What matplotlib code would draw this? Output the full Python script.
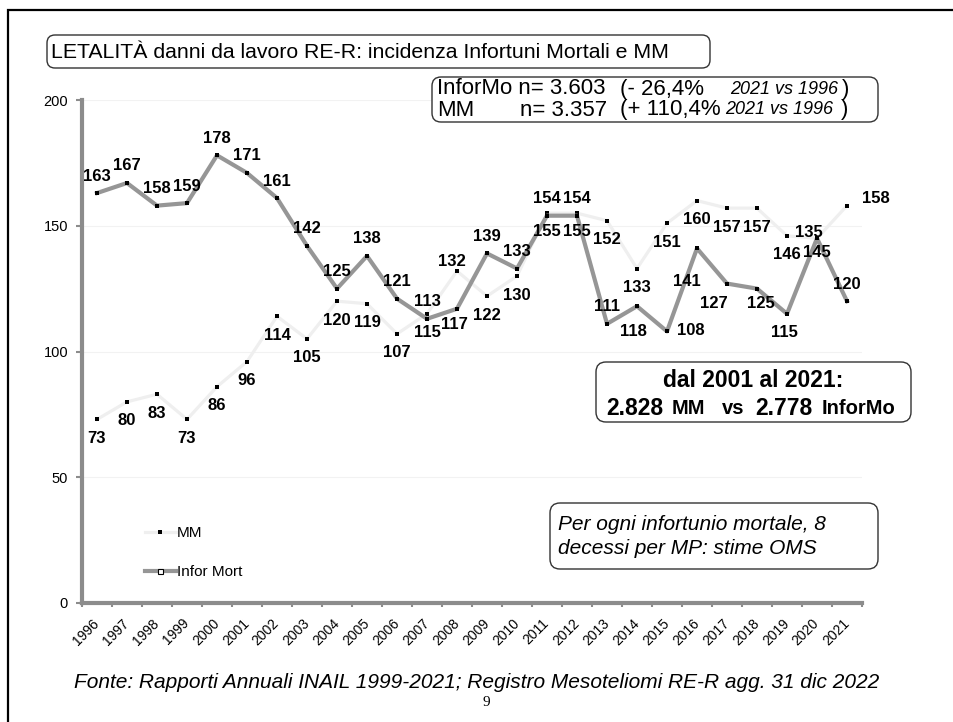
import numpy as np
import matplotlib
matplotlib.use("Agg")
import matplotlib.pyplot as plt
from matplotlib.patches import FancyBboxPatch, Rectangle
from matplotlib.lines import Line2D
from matplotlib.transforms import IdentityTransform

plt.rcParams['font.family'] = ['Liberation Sans', 'DejaVu Sans']

# ---------------- data ----------------
years = ["1996", "1997", "1998", "1999", "2000", "2001", "2002", "2003", "2004",
         "2005", "2006", "2007", "2008", "2009", "2010", "2011", "2012", "2013",
         "2014", "2015", "2016", "2017", "2018", "2019", "2020", "2021"]
mm = [73, 80, 83, 73, 86, 96, 114, 105, 120, 119, 107, 115, 132, 122, 130,
      155, 155, 152, 133, 151, 160, 157, 157, 146, 145, 158]
infor_mort = [163, 167, 158, 159, 178, 171, 161, 142, 125, 138, 121, 113, 117,
              139, 133, 154, 154, 111, 118, 108, 141, 127, 125, 115, 145, 120]
# data labels as printed in the reference
mm_labels = [str(v) for v in mm]
infor_labels = [str(v) for v in infor_mort]
infor_labels[24] = "135"
yticks = [0, 50, 100, 150, 200]

W, H = 954, 722
fig = plt.figure(figsize=(W / 100, H / 100), dpi=100)
fig.patch.set_facecolor("white")

def P(x, y):
    """pixel (top-left origin) -> display coords"""
    return x, H - y

# outer frame
fig.add_artist(Rectangle(P(8, 760), 1000, 750, transform=IdentityTransform(),
                         fill=False, ec="black", lw=1.6, zorder=0))

ax = fig.add_axes([82 / W, 1 - 603 / H, 780 / W, 503 / H])
x = np.arange(len(years))

spine_col = "#8c8c8c"
ax.plot(x, mm, color="#efefef", lw=2.3, marker="s", ms=3.0, mew=0,
        mfc="black", zorder=3)
ax.plot(x, infor_mort, color="#969696", lw=3.0, marker="s", ms=3.4, mew=0,
        mfc="black", zorder=4)

ax.set_xlim(-0.5, len(years) - 0.5)
ax.set_ylim(0, 200)
ax.set_yticks(yticks)
ax.set_yticklabels([str(v) for v in yticks], fontsize=10.5)
ax.set_xticks(x)
ax.set_xticklabels(years, rotation=45, ha="right", va="center",
                   rotation_mode="anchor", fontsize=10)
ax.set_xticks(np.arange(-0.5, len(years) + 0.5, 1), minor=True)
ax.tick_params(axis="x", which="major", length=0, pad=13)
ax.tick_params(axis="x", which="minor", length=3, width=1.5, color=spine_col)
ax.tick_params(axis="y", length=4, width=1.5, color=spine_col, pad=6)
for s in ["top", "right"]:
    ax.spines[s].set_visible(False)
for s in ["left", "bottom"]:
    ax.spines[s].set_color(spine_col)
    ax.spines[s].set_linewidth(3.0)
ax.grid(axis="y", color="#f2f2f2", lw=0.8)
ax.set_axisbelow(True)

# data labels
inf_off = {i: (0, 17) for i in range(len(years))}
inf_off.update({12: (-3, -16), 18: (-4, -25), 19: (24, 1), 20: (-10, -33),
                21: (-13, -20), 22: (4, -15), 23: (-3, -19), 24: (-8, 6)})
mm_off = {i: (0, -19) for i in range(len(years))}
mm_off.update({12: (-5, 10), 15: (0, -18), 16: (0, -18), 24: (0, -14),
               25: (29, 7)})
for i in range(len(years)):
    ax.annotate(infor_labels[i], (x[i], infor_mort[i]), xytext=inf_off[i],
                textcoords="offset pixels", ha="center", va="center",
                fontsize=12, fontweight="bold", zorder=6)
    ax.annotate(mm_labels[i], (x[i], mm[i]), xytext=mm_off[i],
                textcoords="offset pixels", ha="center", va="center",
                fontsize=12, fontweight="bold", zorder=6)

# legend
h_mm = Line2D([], [], color="#efefef", lw=2.3, marker="s", ms=3.0,
              mfc="black", mew=0)
h_inf = Line2D([], [], color="#969696", lw=3.0, marker="s", ms=3.6,
               mfc="white", mec="black", mew=0.8)
ax.legend([h_mm, h_inf], ["MM", "Infor Mort"], loc="upper left",
          bbox_to_anchor=((145 - 82) / 780, (603 - 526) / 503), frameon=False,
          fontsize=11, handlelength=2.0, handletextpad=0.1, labelspacing=1.65,
          borderaxespad=0, borderpad=0)

# boxes
def rbox(x0, y0, x1, y1, r=8):
    fig.add_artist(FancyBboxPatch(P(x0, y1), x1 - x0, y1 - y0,
                                  boxstyle=f"round,pad=0,rounding_size={r}",
                                  transform=IdentityTransform(), fc="white",
                                  ec="#333333", lw=1.0, zorder=5))

def T(xp, yp, s, **kw):
    kw.setdefault("va", "center")
    kw.setdefault("ha", "left")
    fig.text(xp / W, 1 - yp / H, s, zorder=7, **kw)

# title
rbox(47, 35, 710, 68)
T(51, 52, "LETALITÀ danni da lavoro RE-R: incidenza Infortuni Mortali e MM",
  fontsize=15.3)

# info box
rbox(432, 77, 878, 122, r=9)
T(437, 89, "InforMo n= 3.603", fontsize=16)
T(620, 89, "(- 26,4%", fontsize=16)
T(730, 89, "2021 vs 1996", fontsize=13, style="italic")
T(842, 89, ")", fontsize=16)
T(437, 110, "MM", fontsize=16)
T(520, 110, "n= 3.357", fontsize=16)
T(620, 110, "(+ 110,4%", fontsize=16)
T(725, 110, "2021 vs 1996", fontsize=13, style="italic")
T(841, 110, ")", fontsize=16)

# dal 2001 box
rbox(596, 362, 911, 422, r=10)
T(753, 381, "dal 2001 al 2021:", fontsize=16.5, fontweight="bold", ha="center")
T(606, 408, "2.828", fontsize=16.5, fontweight="bold")
T(672, 409, "MM", fontsize=14.5, fontweight="bold")
T(722, 409, "vs", fontsize=14.5, fontweight="bold")
T(755, 408, "2.778", fontsize=16.5, fontweight="bold")
T(822, 409, "InforMo", fontsize=14.5, fontweight="bold")

# per ogni box
rbox(550, 503, 878, 569, r=10)
T(558, 525, "Per ogni infortunio mortale, 8", fontsize=15, style="italic")
T(558, 548, "decessi per MP: stime OMS", fontsize=15, style="italic")

# footer
T(477, 682, "Fonte: Rapporti Annuali INAIL 1999-2021; Registro Mesoteliomi RE-R agg. 31 dic 2022",
  fontsize=15, style="italic", ha="center")
T(486, 703, "9", fontsize=11, family="Liberation Serif", ha="center")

fig.savefig("out.png", dpi=100, facecolor="white")
